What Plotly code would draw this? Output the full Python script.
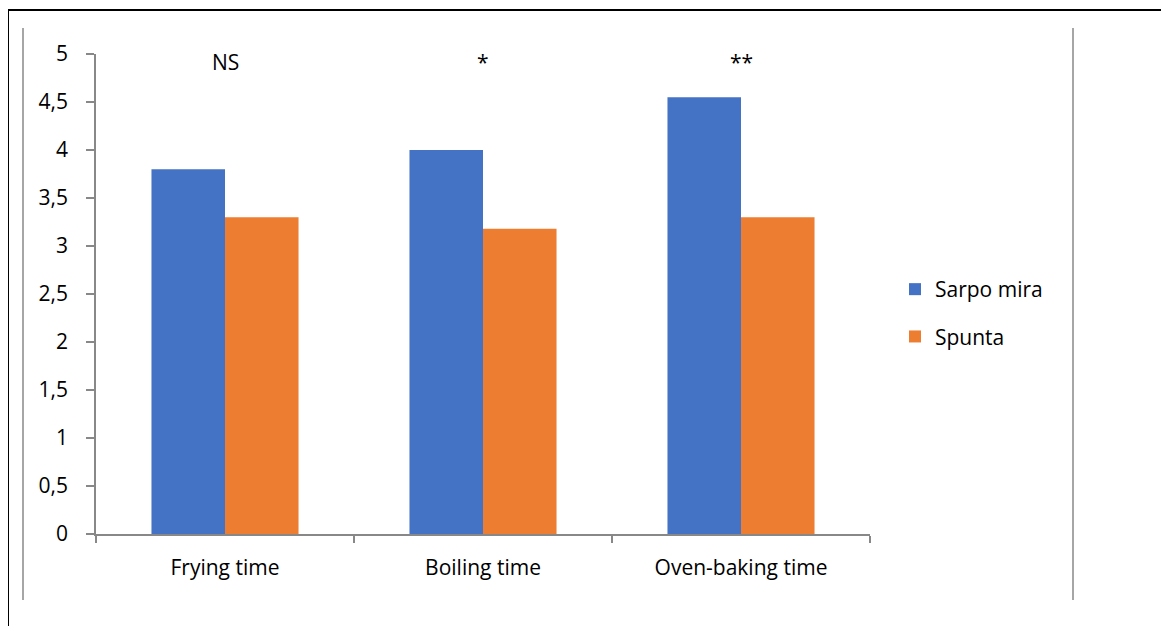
import plotly.graph_objects as go

categories = ["Frying time", "Boiling time", "Oven-baking time"]
sarpo_mira = [3.8, 4.0, 4.55]
spunta = [3.3, 3.18, 3.3]
significance = ["NS", "*", "**"]
y_ticks = [0, 0.5, 1, 1.5, 2, 2.5, 3, 3.5, 4, 4.5, 5]
y_tick_labels = ["0", "0,5", "1", "1,5", "2", "2,5", "3", "3,5", "4", "4,5", "5"]

OFF = 8  # page body margin
W, H = 1169 - OFF, 626 - OFF
L, R, T, B = 96 - OFF, 870 - OFF, 54 - OFF, 534 - OFF  # plot area in figure pixels

def px(x):
    return (x - OFF - L) / (R - L)

def py(y):
    return (B - (y - OFF)) / (B - T)

FONT = "Open Sans"
FS = 21

fig = go.Figure()
fig.add_trace(go.Bar(name="Sarpo mira", x=categories, y=sarpo_mira,
                     marker=dict(color="#4472C4", line=dict(width=0)),
                     legendgroup="a"))
fig.add_trace(go.Bar(name="Spunta", x=categories, y=spunta,
                     marker=dict(color="#ED7D31", line=dict(width=0)),
                     legendgroup="b"))

for cat, txt in zip(categories, significance):
    fig.add_annotation(x=cat, y=4.92, xref="x", yref="y", text=txt,
                       showarrow=False, font=dict(family=FONT, size=FS, color="#000000"))

shape_line = dict(color="#888888", width=1.5)
fig.add_shape(type="line", xref="paper", yref="paper",
              x0=px(23), x1=px(23), y0=py(28), y1=py(600), line=shape_line)
fig.add_shape(type="line", xref="paper", yref="paper",
              x0=px(1073), x1=px(1073), y0=py(28), y1=py(600), line=shape_line)
fig.add_shape(type="line", xref="paper", yref="paper",
              x0=px(8), x1=px(8), y0=py(10), y1=py(640), line=dict(color="#000000", width=2))
fig.add_shape(type="line", xref="paper", yref="paper",
              x0=px(7), x1=px(1180), y0=py(10), y1=py(10), line=dict(color="#000000", width=2))

fig.update_layout(
    width=W, height=H,
    margin=dict(l=L, r=W - R, t=T, b=H - B, pad=0),
    paper_bgcolor="white", plot_bgcolor="white",
    barmode="group", bargap=0.43, bargroupgap=0,
    font=dict(family=FONT, size=FS, color="#000000"),
    showlegend=True,
    legend=dict(x=px(895), y=py(269), xanchor="left", yanchor="top",
                font=dict(family=FONT, size=FS, color="#000000"),
                tracegroupgap=17, bgcolor="rgba(0,0,0,0)", itemclick=False),
    xaxis=dict(type="category", showline=True, linecolor="#888888", linewidth=2,
               ticks="outside", tickson="boundaries", ticklen=7, tickcolor="#888888",
               tickwidth=1.5, showgrid=False, zeroline=False, ticklabelstandoff=14,
               tickfont=dict(family=FONT, size=FS, color="#000000")),
    yaxis=dict(range=[0, 5], tickvals=y_ticks, ticktext=y_tick_labels,
               showline=True, linecolor="#888888", linewidth=1.5,
               ticks="outside", ticklen=8, tickcolor="#888888", tickwidth=1.5,
               showgrid=False, zeroline=False, ticklabelstandoff=14,
               tickfont=dict(family=FONT, size=FS, color="#000000")),
)

fig.write_html("out.html")
